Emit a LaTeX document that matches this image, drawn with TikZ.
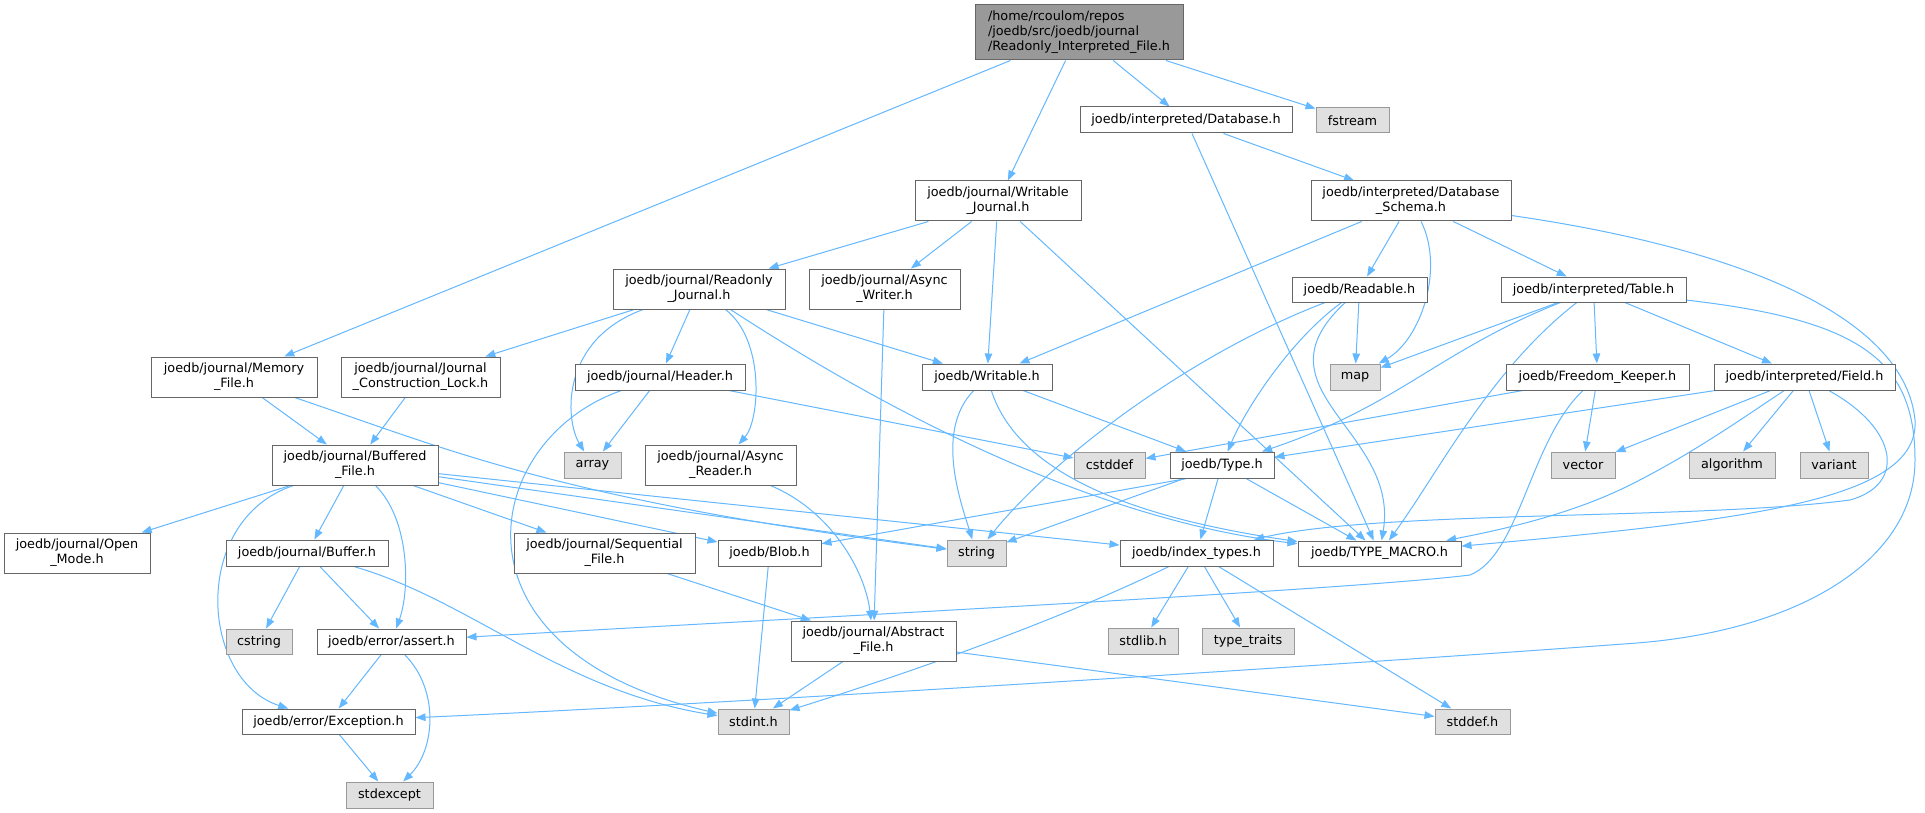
\documentclass[tikz,border=0pt]{standalone}
\usepackage{fontspec}
\setmainfont{DejaVu Sans}
\usetikzlibrary{arrows.meta}
\definecolor{edgec}{HTML}{63B8FF}
\definecolor{bordc}{HTML}{666666}
\definecolor{extb}{HTML}{999999}
\definecolor{extf}{HTML}{E0E0E0}
\definecolor{rootf}{HTML}{999999}
\pgfdeclarelayer{bg}
\pgfsetlayers{bg,main}
\tikzset{
 base/.style={draw, line width=1pt, inner sep=0pt, font=\fontsize{12.8}{15}\selectfont, align=center, text=black},
 doc/.style={base, draw=bordc, fill=white},
 ext/.style={base, draw=extb, fill=extf},
 rootnode/.style={base, draw=bordc, fill=rootf, align=left},
 inc/.style={draw=edgec, line width=1pt, -{Triangle[length=10pt,width=7.5pt]}},
}
\begin{document}
\begin{tikzpicture}[x=1pt,y=-1pt]
\useasboundingbox (0,0) rectangle (1925,813);
% nodes
\node[rootnode, minimum width=208pt, minimum height=55pt] (root) at (1079,32.5) {/home/rcoulom/repos\\/joedb/src/joedb/journal\\/Readonly\_Interpreted\_File.h};
\node[doc, minimum width=212pt, minimum height=26pt] (db) at (1186,120) {joedb/interpreted/Database.h};
\node[ext, minimum width=73pt, minimum height=25pt] (fstream) at (1352.5,120.5) {fstream};
\node[doc, minimum width=166pt, minimum height=40pt] (wj) at (998,201) {joedb/journal/Writable\\\_Journal.h};
\node[doc, minimum width=200pt, minimum height=40pt] (schema) at (1411,201) {joedb/interpreted/Database\\\_Schema.h};
\node[doc, minimum width=172pt, minimum height=40pt] (rj) at (699,289) {joedb/journal/Readonly\\\_Journal.h};
\node[doc, minimum width=151pt, minimum height=40pt] (aw) at (884.5,289) {joedb/journal/Async\\\_Writer.h};
\node[doc, minimum width=135pt, minimum height=25pt] (readable) at (1359.5,289.5) {joedb/Readable.h};
\node[doc, minimum width=185pt, minimum height=25pt] (table) at (1593.5,289.5) {joedb/interpreted/Table.h};
\node[doc, minimum width=166pt, minimum height=40pt] (memfile) at (234,377) {joedb/journal/Memory\\\_File.h};
\node[doc, minimum width=159pt, minimum height=40pt] (jcl) at (420.5,377) {joedb/journal/Journal\\\_Construction\_Lock.h};
\node[doc, minimum width=170pt, minimum height=26pt] (header) at (660,377) {joedb/journal/Header.h};
\node[doc, minimum width=130pt, minimum height=26pt] (writable) at (987,377) {joedb/Writable.h};
\node[ext, minimum width=50pt, minimum height=26pt] (map) at (1355,377) {map};
\node[doc, minimum width=183pt, minimum height=26pt] (fk) at (1597.5,377) {joedb/Freedom\_Keeper.h};
\node[doc, minimum width=181pt, minimum height=26pt] (field) at (1804.5,377) {joedb/interpreted/Field.h};
\node[doc, minimum width=166pt, minimum height=40pt] (bf) at (355,465) {joedb/journal/Buffered\\\_File.h};
\node[ext, minimum width=57pt, minimum height=26pt] (array) at (592.5,465) {array};
\node[doc, minimum width=151pt, minimum height=40pt] (ar) at (720.5,465) {joedb/journal/Async\\\_Reader.h};
\node[ext, minimum width=71pt, minimum height=26pt] (cstddef) at (1109.5,465) {cstddef};
\node[doc, minimum width=104pt, minimum height=26pt] (type) at (1222,465) {joedb/Type.h};
\node[ext, minimum width=64pt, minimum height=26pt] (vector) at (1583,465) {vector};
\node[ext, minimum width=86pt, minimum height=26pt] (algorithm) at (1732,465) {algorithm};
\node[ext, minimum width=68pt, minimum height=26pt] (variant) at (1834,465) {variant};
\node[doc, minimum width=146pt, minimum height=40pt] (openmode) at (77,553) {joedb/journal/Open\\\_Mode.h};
\node[doc, minimum width=162pt, minimum height=26pt] (buffer) at (307,553) {joedb/journal/Buffer.h};
\node[doc, minimum width=181pt, minimum height=40pt] (seq) at (604.5,553) {joedb/journal/Sequential\\\_File.h};
\node[doc, minimum width=103pt, minimum height=26pt] (blob) at (769.5,553) {joedb/Blob.h};
\node[ext, minimum width=59pt, minimum height=26pt] (string) at (976.5,553) {string};
\node[doc, minimum width=153pt, minimum height=26pt] (indextypes) at (1196.5,553) {joedb/index\_types.h};
\node[doc, minimum width=163pt, minimum height=25pt] (typemacro) at (1379.5,553.5) {joedb/TYPE\_MACRO.h};
\node[ext, minimum width=66pt, minimum height=25pt] (cstring) at (259,641.5) {cstring};
\node[doc, minimum width=149pt, minimum height=25pt] (assert) at (391.5,641.5) {joedb/error/assert.h};
\node[doc, minimum width=165pt, minimum height=40pt] (af) at (873.5,641) {joedb/journal/Abstract\\\_File.h};
\node[ext, minimum width=70pt, minimum height=26pt] (stdlib) at (1143,641) {stdlib.h};
\node[ext, minimum width=92pt, minimum height=26pt] (typetraits) at (1248,641) {type\_traits};
\node[doc, minimum width=173pt, minimum height=25pt] (exception) at (328.5,721.5) {joedb/error/Exception.h};
\node[ext, minimum width=71pt, minimum height=25pt] (stdint) at (753.5,721.5) {stdint.h};
\node[ext, minimum width=75pt, minimum height=25pt] (stddef) at (1472.5,721.5) {stddef.h};
\node[ext, minimum width=87pt, minimum height=26pt] (stdexcept) at (389.5,795) {stdexcept};
% edges
\begin{pgfonlayer}{bg}
\fill[white] (0,0) rectangle (1925,813);
\draw[inc] (root) -- (memfile);
\draw[inc] (root) -- (wj);
\draw[inc] (root) -- (db);
\draw[inc] (root) -- (fstream);
\draw[inc] (db) -- (schema);
\draw[inc] (db) -- (typemacro);
\draw[inc] (wj) -- (rj);
\draw[inc] (wj) -- (aw);
\draw[inc] (wj) -- (writable);
\draw[inc] (wj) -- (typemacro);
\draw[inc] (schema) -- (writable);
\draw[inc] (schema) -- (readable);
\draw[inc] (schema) .. controls (1445,270) and (1420,340) .. (map);
\draw[inc] (schema) -- (table);
\draw[inc] (schema) .. controls (1750,250) and (1905,320) .. (1915,420) .. controls (1920,500) and (1750,520) .. (typemacro);
\draw[inc] (rj) -- (jcl);
\draw[inc] (rj) .. controls (560,340) and (565,420) .. (array);
\draw[inc] (rj) -- (header);
\draw[inc] (rj) .. controls (765,340) and (760,420) .. (ar);
\draw[inc] (rj) -- (writable);
\draw[inc] (rj) .. controls (900,420) and (1100,520) .. (typemacro);
\draw[inc] (aw) -- (af);
\draw[inc] (readable) .. controls (1200,350) and (1060,450) .. (string);
\draw[inc] (readable) .. controls (1290,340) and (1245,410) .. (type);
\draw[inc] (readable) -- (map);
\draw[inc] (readable) .. controls (1250,390) and (1400,430) .. (typemacro);
\draw[inc] (table) -- (map);
\draw[inc] (table) .. controls (1440,350) and (1400,405) .. (type);
\draw[inc] (table) .. controls (1490,370) and (1440,470) .. (typemacro);
\draw[inc] (table) -- (fk);
\draw[inc] (table) -- (field);
\draw[inc] (table) .. controls (1860,320) and (1915,360) .. (1915,460) .. controls (1915,560) and (1800,630) .. (1637,643) .. controls (1300,668) and (700,705) .. (exception);
\draw[inc] (memfile) -- (bf);
\draw[inc] (memfile) .. controls (450,450) and (560,500) .. (string);
\draw[inc] (jcl) -- (bf);
\draw[inc] (header) -- (array);
\draw[inc] (header) -- (cstddef);
\draw[inc] (header) .. controls (480,440) and (440,650) .. (stdint);
\draw[inc] (writable) .. controls (935,430) and (960,500) .. (string);
\draw[inc] (writable) -- (type);
\draw[inc] (writable) .. controls (1020,480) and (1150,520) .. (typemacro);
\draw[inc] (fk) -- (cstddef);
\draw[inc] (fk) .. controls (1530,440) and (1520,555) .. (1470,575) .. controls (1350,590) and (800,618) .. (assert);
\draw[inc] (fk) -- (vector);
\draw[inc] (field) -- (type);
\draw[inc] (field) -- (vector);
\draw[inc] (field) .. controls (1740,420) and (1690,455) .. (1630,485) .. controls (1570,515) and (1500,530) .. (typemacro);
\draw[inc] (field) -- (algorithm);
\draw[inc] (field) -- (variant);
\draw[inc] (field) .. controls (1900,430) and (1905,485) .. (1850,500) .. controls (1700,520) and (1380,510) .. (indextypes);
\draw[inc] (bf) -- (openmode);
\draw[inc] (bf) -- (buffer);
\draw[inc] (bf) .. controls (410,520) and (410,590) .. (assert);
\draw[inc] (bf) .. controls (190,520) and (200,680) .. (exception);
\draw[inc] (bf) -- (seq);
\draw[inc] (bf) -- (blob);
\draw[inc] (bf) -- (string);
\draw[inc] (bf) -- (indextypes);
\draw[inc] (ar) .. controls (830,510) and (865,570) .. (af);
\draw[inc] (type.201) -- (blob);
\draw[inc] (type) -- (string);
\draw[inc] (type) -- (indextypes);
\draw[inc] (type) -- (typemacro);
\draw[inc] (buffer) -- (cstring);
\draw[inc] (buffer) -- (assert);
\draw[inc] (buffer) .. controls (470,600) and (560,690) .. (stdint);
\draw[inc] (seq) -- (af);
\draw[inc] (blob) -- (stdint);
\draw[inc] (indextypes) .. controls (1080,610) and (950,660) .. (stdint);
\draw[inc] (indextypes) -- (stdlib);
\draw[inc] (indextypes) -- (typetraits);
\draw[inc] (indextypes) -- (stddef);
\draw[inc] (af) -- (stdint);
\draw[inc] (af) -- (stddef);
\draw[inc] (assert) -- (exception);
\draw[inc] (assert) .. controls (440,690) and (435,750) .. (stdexcept);
\draw[inc] (exception) -- (stdexcept);
\end{pgfonlayer}
\end{tikzpicture}
\end{document}
